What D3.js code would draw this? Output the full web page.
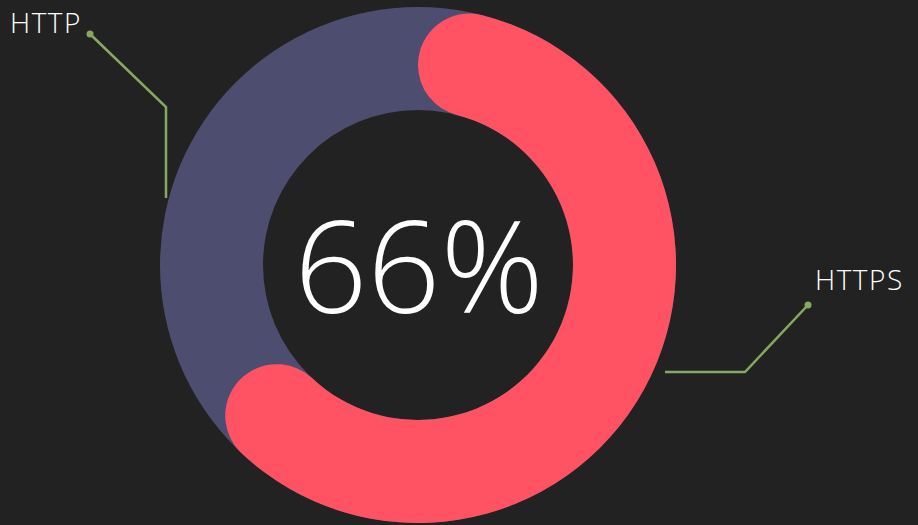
<!DOCTYPE html>
<html>
<head>
<meta charset="utf-8">
<script src="https://cdn.jsdelivr.net/npm/d3@7"></script>
<style>
  html, body { margin: 0; padding: 0; background: #222222; }
  svg { display: block; }
  text { font-family: "Open Sans", Lato, sans-serif; font-weight: 300; fill: #ffffff; }
</style>
</head>
<body>
<div id="chart"></div>
<script>
// data
let categories = ["HTTPS", "HTTP"];
let shares = [66, 34];
let seriesColors = ["#ff5364", "#4d4e6f"];

class DonutChart {

    constructor(parentElement) {
        this.parentElement = parentElement;
        this.initVis();
    }

    initVis() {
        let vis = this;

        vis.width = 918;
        vis.height = 525;

        vis.svg = d3.select("#" + vis.parentElement).append("svg")
            .attr("width", vis.width)
            .attr("height", vis.height);

        vis.cx = 418;
        vis.cy = 265;
        vis.outerRadius = 258;
        vis.innerRadius = 155;

        vis.g = vis.svg.append("g")
            .attr("transform", `translate(${vis.cx},${vis.cy})`);

        // full ring behind the highlighted share
        vis.ringArc = d3.arc()
            .innerRadius(vis.innerRadius)
            .outerRadius(vis.outerRadius)
            .startAngle(0)
            .endAngle(2 * Math.PI);

        vis.arc = d3.arc()
            .innerRadius(vis.innerRadius)
            .outerRadius(vis.outerRadius)
            .cornerRadius((vis.outerRadius - vis.innerRadius) / 2);

        vis.angle = d3.scaleLinear()
            .domain([0, d3.sum(shares)])
            .range([0, 2 * Math.PI]);

        vis.wrangleData();
    }

    wrangleData() {
        let vis = this;
        vis.displayData = categories.map((c, i) => ({
            name: c,
            value: shares[i],
            color: seriesColors[i]
        }));
        vis.updateVis();
    }

    updateVis() {
        let vis = this;
        let main = vis.displayData[0];
        let other = vis.displayData[1];

        vis.g.append("path")
            .attr("d", vis.ringArc())
            .attr("fill", other.color);

        vis.g.append("path")
            .attr("d", vis.arc({startAngle: vis.angle(0), endAngle: vis.angle(main.value)}))
            .attr("fill", main.color);

        // center value
        vis.g.append("text")
            .attr("x", 1)
            .attr("y", 48)
            .attr("text-anchor", "middle")
            .style("font-size", "128px")
            .text(main.value + "%");

        // leader lines (offsets from chart center)
        let leaders = [
            {label: other.name, pts: [[-252, -67], [-252, -158], [-328, -231]], tx: -408, ty: -232, anchor: "start"},
            {label: main.name, pts: [[247, 107], [327, 107], [390, 40]], tx: 397, ty: 25, anchor: "start"}
        ];

        let line = d3.line();
        leaders.forEach(l => {
            vis.g.append("path")
                .attr("d", line(l.pts))
                .attr("fill", "none")
                .attr("stroke", "#87a863")
                .attr("stroke-width", 2.5);
            let end = l.pts[l.pts.length - 1];
            vis.g.append("circle")
                .attr("cx", end[0])
                .attr("cy", end[1])
                .attr("r", 3.5)
                .attr("fill", "#87a863");
            vis.g.append("text")
                .attr("x", l.tx)
                .attr("y", l.ty)
                .attr("text-anchor", l.anchor)
                .style("font-size", "28px")
                .style("letter-spacing", "1.5px")
                .text(l.label);
        });
    }
}

new DonutChart("chart");
</script>
</body>
</html>
